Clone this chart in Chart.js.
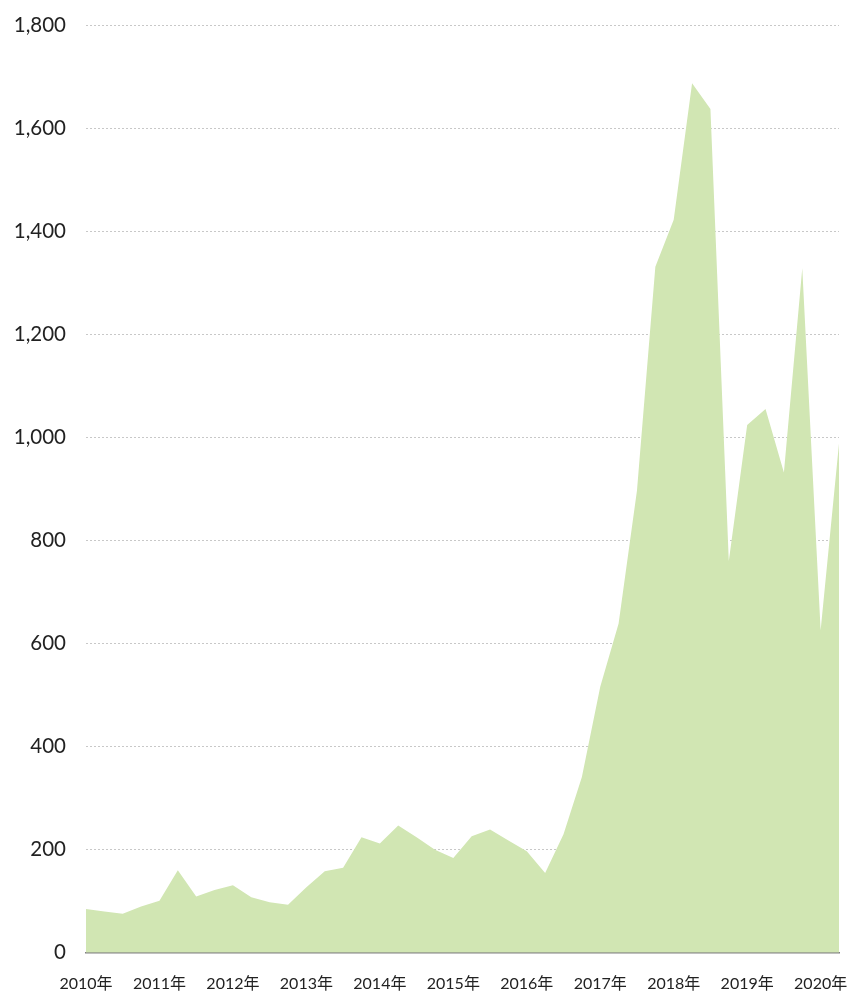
<!DOCTYPE html>
<html><head><meta charset="utf-8">
<script src="https://cdn.jsdelivr.net/npm/chart.js@4"></script>
<style>html,body{margin:0;padding:0;background:#fff}#wrap{width:850px;height:994px}</style>
</head><body><div id="wrap"><canvas id="c"></canvas></div>
<script>
const years = ["2010年","2011年","2012年","2013年","2014年","2015年","2016年","2017年","2018年","2019年","2020年"];
const quarters = ["Q1","Q2","Q3","Q4"];
const values = [85,80,76,90,101,160,109,122,131,108,98,93,127,158,165,224,212,247,224,200,184,226,239,218,197,155,230,341,516,639,897,1331,1422,1687,1637,760,1024,1055,932,1328,626,988];
const yTicks = [0,200,400,600,800,1000,1200,1400,1600,1800];
const labels = values.map((v,i)=>years[Math.floor(i/4)]+quarters[i%4]);
const font = "Lato, 'Noto Sans CJK JP', sans-serif";
new Chart(document.getElementById('c'),{
  type:'line',
  data:{labels:labels,datasets:[{data:values,fill:'origin',backgroundColor:'#d1e6b3',borderWidth:0,borderColor:'rgba(0,0,0,0)',pointRadius:0,tension:0}]},
  options:{
    responsive:true,maintainAspectRatio:false,animation:false,
    layout:{padding:{top:0,right:0,left:0,bottom:-20}},
    plugins:{legend:{display:false},tooltip:{enabled:false}},
    scales:{
      x:{offset:false,grid:{display:false,drawTicks:false},border:{display:true,color:'#808080',width:1.5},
         afterFit:(s)=>{s.paddingRight=11;s.paddingLeft=0;},
         ticks:{autoSkip:false,maxRotation:0,padding:21,color:'#222',font:{family:font,size:16},
           callback:(v,i)=> i%4===0 ? years[i/4] : ''}},
      y:{min:0,max:1800,grid:{color:'#c8c8c8',drawTicks:false,lineWidth:1},border:{display:false,dash:[2,2]},
         afterBuildTicks:(ax)=>{ax.ticks=yTicks.map(v=>({value:v}));},
         afterFit:(s)=>{s.paddingTop=25;s.paddingBottom=0;s.width=86;},
         ticks:{padding:20,color:'#222',font:{family:font,size:20.5},callback:(v)=>v.toLocaleString('en-US')}}
    }
  }
});
</script></body></html>
